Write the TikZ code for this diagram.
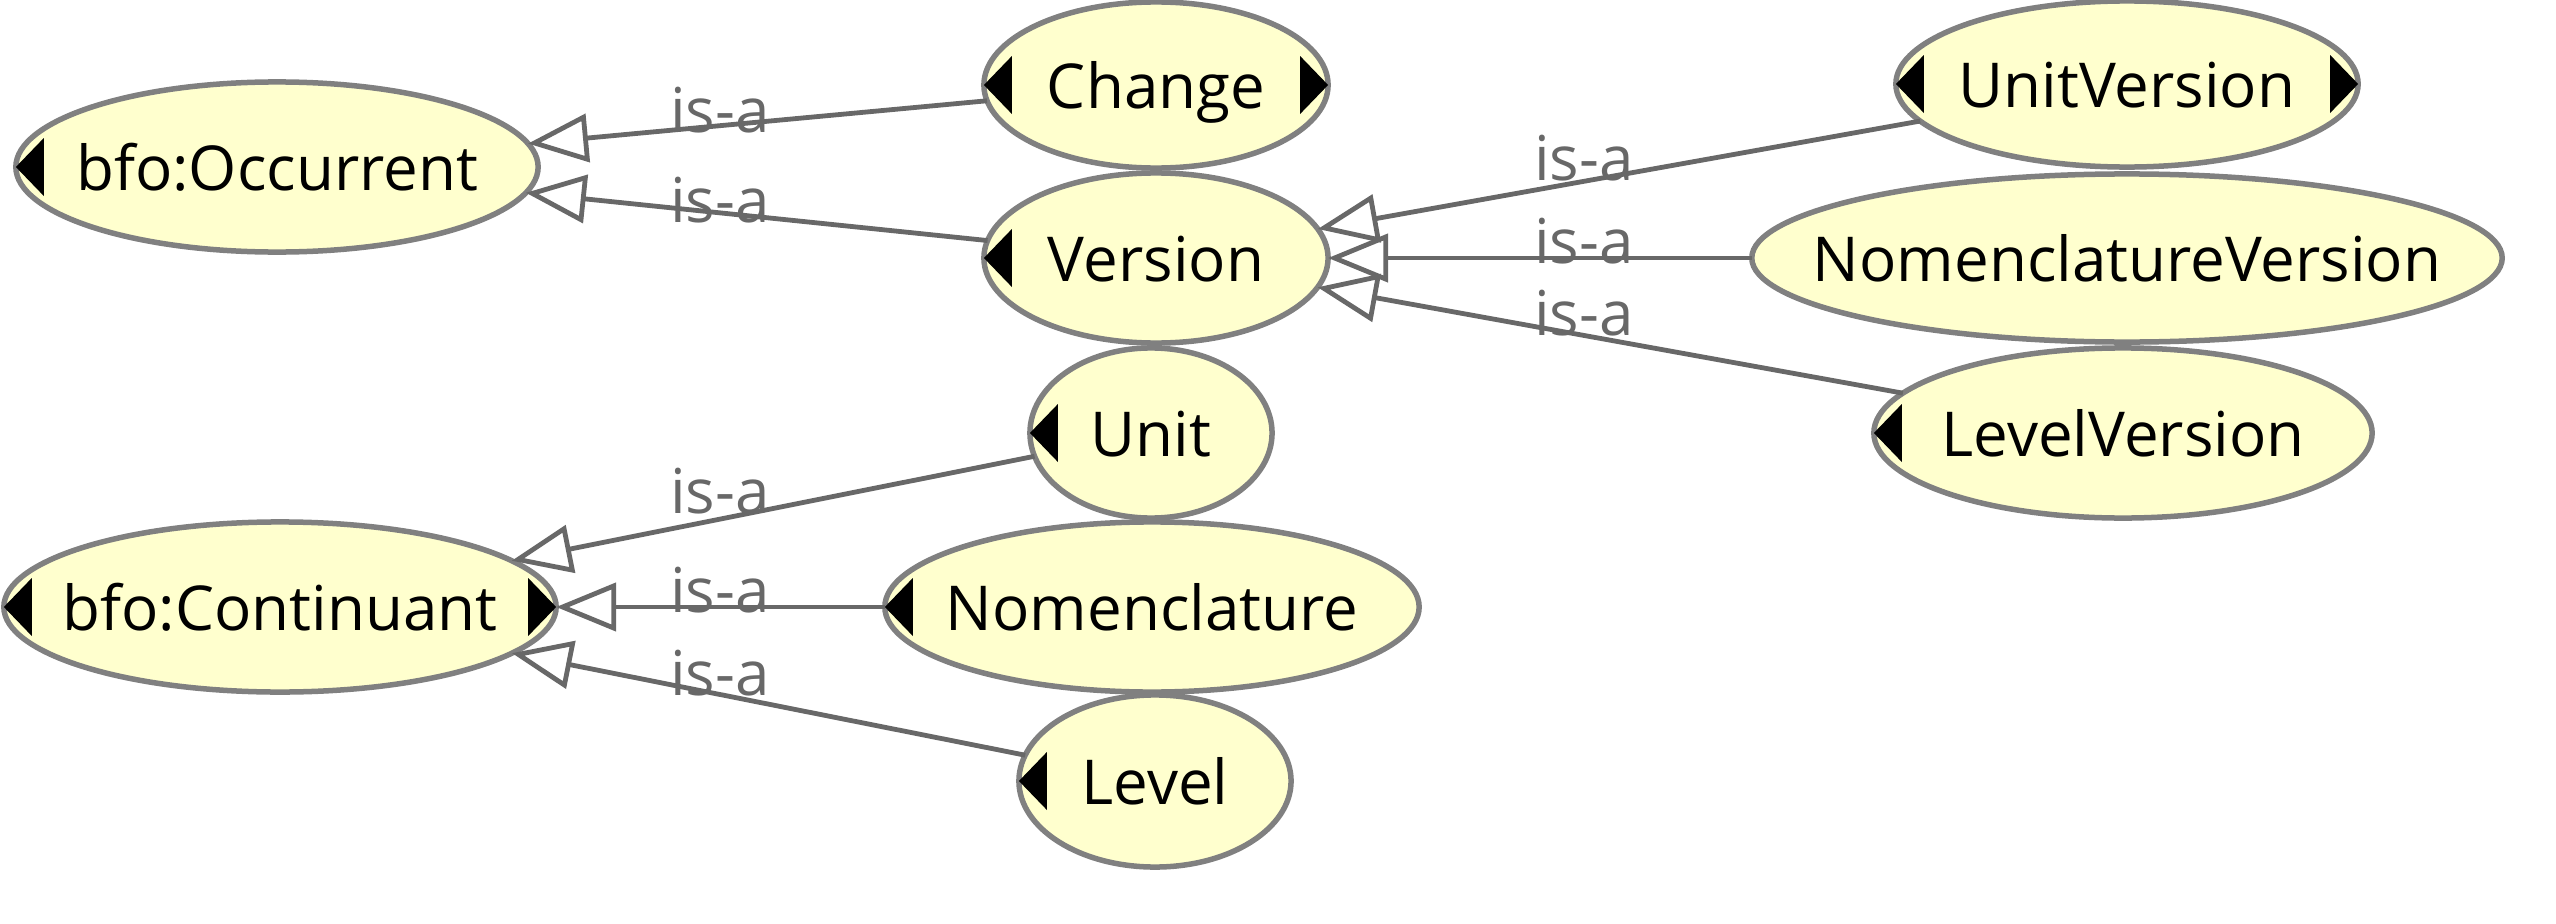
\documentclass[tikz,border=0pt]{standalone}
\usepackage{fontspec}
\setmainfont{Open Sans}
\usetikzlibrary{arrows.meta,shapes.geometric}
\definecolor{nodefill}{RGB}{255,255,206}
\definecolor{nodeborder}{RGB}{128,128,128}
\definecolor{edgecol}{RGB}{104,104,104}
\begin{document}
\begin{tikzpicture}[x=0.01cm,y=-0.01cm,
  cls/.style={ellipse, draw=nodeborder, fill=nodefill, line width=0.055cm, inner sep=0pt, outer sep=0pt},
  clstext/.style={font=\fontsize{17.6}{20}\selectfont, text=black, anchor=base, inner sep=0pt},
  isa/.style={draw=edgecol, line width=0.048cm, -{Triangle[open, length=0.6cm, width=0.48cm, line width=0.048cm]}},
  isalabel/.style={text=edgecol, font=\fontsize{17.6}{20}\selectfont, anchor=base, inner sep=0pt}
]
\useasboundingbox (0,0) rectangle (2556,924);

% ellipses
\node[cls, minimum width=5.22cm, minimum height=1.70cm] (occ) at (277,167) {};
\node[cls, minimum width=3.44cm, minimum height=1.66cm] (chg) at (1156,85) {};
\node[cls, minimum width=3.44cm, minimum height=1.70cm] (ver) at (1156,258) {};
\node[cls, minimum width=4.62cm, minimum height=1.66cm] (uver) at (2127,84) {};
\node[cls, minimum width=7.50cm, minimum height=1.68cm] (nver) at (2127,258) {};
\node[cls, minimum width=4.98cm, minimum height=1.70cm] (lver) at (2123,433) {};
\node[cls, minimum width=2.42cm, minimum height=1.70cm] (unit) at (1151,433) {};
\node[cls, minimum width=5.52cm, minimum height=1.70cm] (cont) at (280,607) {};
\node[cls, minimum width=5.34cm, minimum height=1.70cm] (nom) at (1152,607) {};
\node[cls, minimum width=2.72cm, minimum height=1.72cm] (lev) at (1155,781) {};

% class names
\node[clstext] (occt) at ([yshift=-0.23cm]occ.center) {bfo:Occurrent};
\node[clstext] (chgt) at ([yshift=-0.23cm]chg.center) {Change};
\node[clstext] (vert) at ([yshift=-0.23cm]ver.center) {Version};
\node[clstext] (uvert) at ([yshift=-0.23cm]uver.center) {UnitVersion};
\node[clstext] (nvert) at ([yshift=-0.23cm]nver.center) {NomenclatureVersion};
\node[clstext] (lvert) at ([yshift=-0.23cm]lver.center) {LevelVersion};
\node[clstext] (unitt) at ([yshift=-0.23cm]unit.center) {Unit};
\node[clstext] (contt) at ([yshift=-0.23cm]cont.center) {bfo:Continuant};
\node[clstext] (nomt) at ([yshift=-0.23cm]nom.center) {Nomenclature};
\node[clstext] (levt) at ([yshift=-0.23cm]lev.center) {Level};

% expand markers
\foreach \n in {occ,chg,ver,uver,lver,unit,cont,nom,lev}
  \fill[black] (\n.west) -- ++(28,-29) -- ++(0,58) -- cycle;
\foreach \n in {chg,uver,cont}
  \fill[black] (\n.east) -- ++(-28,-29) -- ++(0,58) -- cycle;

% edges
\draw[isa] (chg) -- (occ);
\draw[isa] (ver) -- (occ);
\draw[isa] (uver) -- (ver);
\draw[isa] (nver) -- (ver);
\draw[isa] (lver) -- (ver);
\draw[isa] (unit) -- (cont);
\draw[isa] (nom) -- (cont);
\draw[isa] (lev) -- (cont);

% labels
\node[isalabel] (l1) at (720,132) {is-a};
\node[isalabel] (l2) at (720,222) {is-a};
\node[isalabel] (l3) at (1584,180) {is-a};
\node[isalabel] (l4) at (1584,263) {is-a};
\node[isalabel] (l5) at (1584,335) {is-a};
\node[isalabel] (l6) at (720,513) {is-a};
\node[isalabel] (l7) at (720,612) {is-a};
\node[isalabel] (l8) at (720,695) {is-a};
\end{tikzpicture}
\end{document}
